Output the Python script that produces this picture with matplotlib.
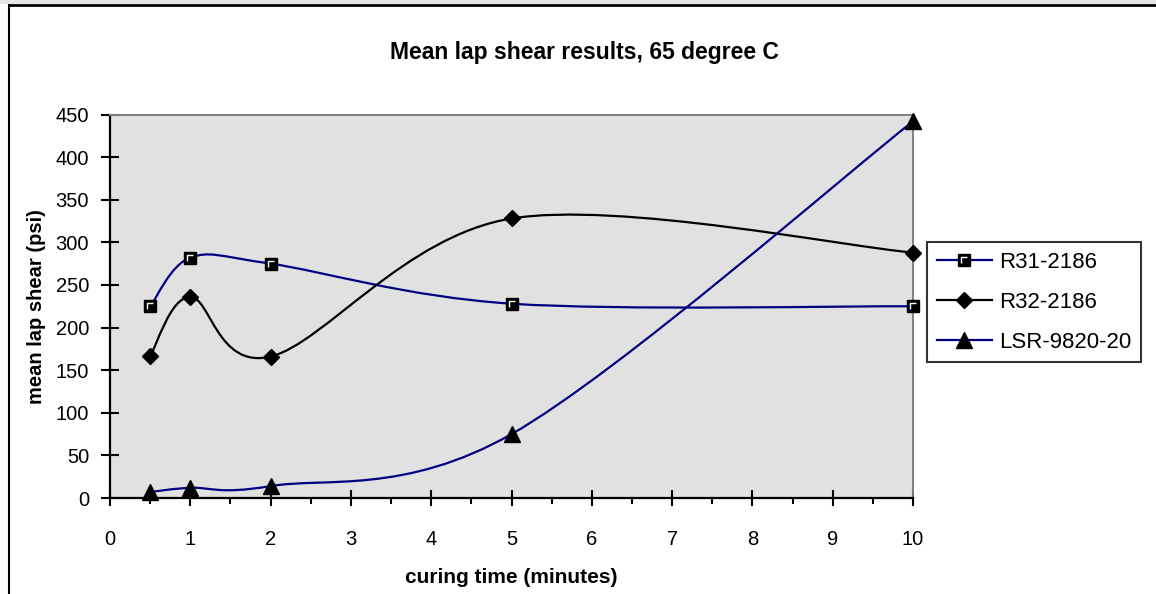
import matplotlib
matplotlib.use("Agg")
import matplotlib.pyplot as plt
from matplotlib.lines import Line2D
from matplotlib.patches import PathPatch, Rectangle
from matplotlib.path import Path
from matplotlib.markers import MarkerStyle
from matplotlib.legend_handler import HandlerTuple

plt.rcParams["font.family"] = ["Liberation Sans", "DejaVu Sans"]

# data
cure_time = [0.5, 1, 2, 5, 10]
r31_2186 = [225, 282, 275, 228, 225]
r32_2186 = [167, 236, 166, 328, 288]
lsr_9820_20 = [7, 12, 14, 75, 442]

series_names = ["R31-2186", "R32-2186", "LSR-9820-20"]
x_ticks = list(range(0, 11))
y_ticks = list(range(0, 451, 50))

NAVY = "#000080"
PLOT_BG = "#e1e1e1"


def smooth_path(xs, ys):
    """Excel-style smoothed line as cubic Bezier segments (Catmull-Rom)."""
    pts = list(zip(xs, ys))
    n = len(pts)
    verts = [pts[0]]
    codes = [Path.MOVETO]
    for i in range(n - 1):
        p0 = pts[i - 1] if i > 0 else pts[i]
        p1 = pts[i]
        p2 = pts[i + 1]
        p3 = pts[i + 2] if i + 2 < n else pts[i + 1]
        c1 = (p1[0] + (p2[0] - p0[0]) / 6, p1[1] + (p2[1] - p0[1]) / 6)
        c2 = (p2[0] - (p3[0] - p1[0]) / 6, p2[1] - (p3[1] - p1[1]) / 6)
        verts += [c1, c2, p2]
        codes += [Path.CURVE4] * 3
    return Path(verts, codes)


# white corner drawn inside the black square marker
corner = MarkerStyle(Path([(-0.5, -0.5), (-0.5, 0.5), (0.5, 0.5)],
                          [Path.MOVETO, Path.LINETO, Path.LINETO]))
corner_kw = dict(linestyle="none", marker=corner, ms=5, mfc="none",
                 mec="white", mew=1.0)

fig = plt.figure(figsize=(11.56, 5.94), dpi=100)
ax = fig.add_axes([0.0952, 0.1616, 0.6946, 0.6456])
ax.set_facecolor(PLOT_BG)

styles = [
    dict(color=NAVY, marker="s", ms=9),
    dict(color="black", marker="D", ms=8),
    dict(color=NAVY, marker="^", ms=11),
]
for ys, st in zip([r31_2186, r32_2186, lsr_9820_20], styles):
    ax.add_patch(PathPatch(smooth_path(cure_time, ys), fill=False,
                           edgecolor=st["color"], lw=1.6, zorder=3,
                           clip_on=False))
    ax.plot(cure_time, ys, linestyle="none", marker=st["marker"],
            ms=st["ms"], mfc="black", mec="black", zorder=4, clip_on=False)
ax.plot(cure_time, r31_2186, zorder=5, clip_on=False, **corner_kw)

ax.set_xlim(0, 10)
ax.set_ylim(0, 450)
ax.set_xticks(x_ticks)
ax.set_yticks(y_ticks)
ax.set_xticks([x + 0.5 for x in x_ticks[:-1]], minor=True)

for side in ["left", "bottom"]:
    ax.spines[side].set_color("black")
    ax.spines[side].set_linewidth(1.6)
for side in ["top", "right"]:
    ax.spines[side].set_color("#808080")
    ax.spines[side].set_linewidth(1.4)

ax.tick_params(axis="x", which="major", direction="inout", length=12,
               width=1.5, labelsize=14.5, pad=17)
ax.tick_params(axis="x", which="minor", direction="out", length=4.5,
               width=1.5)
ax.tick_params(axis="y", which="major", direction="inout", length=13,
               width=1.5, labelsize=14.5, pad=8.6)

ax.set_xlabel("curing time (minutes)", fontsize=15, fontweight="bold",
              labelpad=14)
ax.set_ylabel("mean lap shear (psi)", fontsize=14.5, fontweight="bold",
              ha="center", va="center")
ax.yaxis.set_label_coords(-0.091, 0.5)

fig.text(0.506, 0.911, "Mean lap shear results, 65 degree C", fontsize=16.5,
         fontweight="bold", ha="center", va="center")

handles = []
for i, st in enumerate(styles):
    h = Line2D([], [], color=st["color"], lw=1.6, marker=st["marker"],
               ms=st["ms"], mfc="black", mec="black")
    if i == 0:
        h = (h, Line2D([], [], **corner_kw))
    handles.append(h)
leg = fig.legend(handles, series_names, loc="upper left",
                 bbox_to_anchor=(0.802, 0.5926), fontsize=16,
                 frameon=True, fancybox=False, edgecolor="black",
                 handlelength=2.5, handletextpad=0.32, labelspacing=0.86,
                 borderpad=0.43, borderaxespad=0,
                 handler_map={tuple: HandlerTuple(ndivide=1, pad=0)})
leg.get_frame().set_linewidth(1.5)

# outer chart frame (top strip, top and left border)
fig.add_artist(Rectangle((0, 1 - 4 / 594), 1, 4 / 594, transform=fig.transFigure,
                         facecolor="#e6e6e6", edgecolor="none"))
fig.add_artist(Line2D([8.5 / 1156, 1], [1 - 5.3 / 594] * 2,
                      transform=fig.transFigure, color="black", lw=2))
fig.add_artist(Line2D([9.4 / 1156] * 2, [0, 1 - 5.3 / 594],
                      transform=fig.transFigure, color="black", lw=1.5))

fig.savefig("out.png", dpi=100)
